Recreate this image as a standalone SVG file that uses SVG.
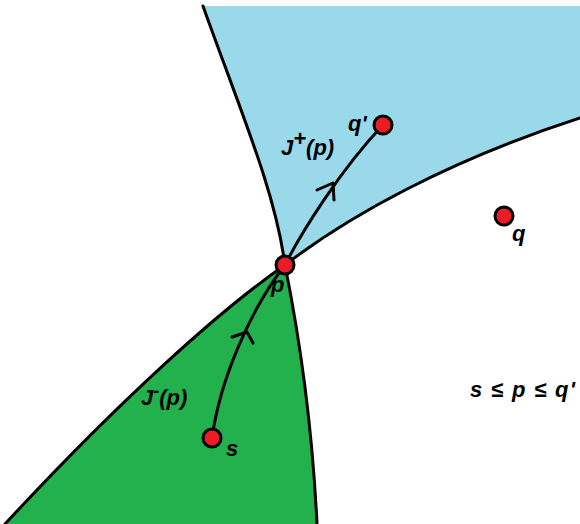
<svg xmlns="http://www.w3.org/2000/svg" width="580" height="524" viewBox="0 0 580 524">
<style>
.edge{fill:none;stroke:#000;stroke-width:3;stroke-linecap:round;stroke-linejoin:round}
.pt{fill:#ed1c24;stroke:#000;stroke-width:3}
.lbl{font-family:"Liberation Sans",Arial,sans-serif;font-weight:bold;font-style:italic;font-size:22px;fill:#000}
</style>
<rect width="580" height="524" fill="#fff"/>
<g id="future-cone">
<path d="M203,6 L580,6 L580,118 C450,160 350,215 285,265 C275,190 240,110 203,6 Z" fill="#99d9ea"/>
<path class="edge" d="M203,6 C240,110 275,190 285,265"/>
<path class="edge" d="M580,118 C450,160 350,215 285,265"/>
<text class="lbl" x="281" y="155">J<tspan font-size="22" dy="-9">+</tspan><tspan dy="9">(p)</tspan></text>
</g>
<g id="past-cone">
<path d="M285,265 C220,310 120,400 5,524 L317,524 C312,420 298,330 285,265 Z" fill="#22b14c"/>
<path class="edge" d="M285,265 C220,310 120,400 5,524"/>
<path class="edge" d="M285,265 C298,330 312,420 317,524"/>
<text class="lbl" x="141" y="405">J<tspan font-size="18" dy="-8">-</tspan><tspan dy="8">(p)</tspan></text>
</g>
<g id="connectors">
<path class="edge" d="M285,265 C300,235 340,170 383,125"/>
<path class="edge" d="M317,190 L333,183 L334,200"/>
<path class="edge" d="M212,438 C220,380 250,310 285,265"/>
<path class="edge" d="M232,337 L247,332 L253,343"/>
</g>
<g id="node-qprime">
<circle class="pt" cx="383" cy="125" r="9"/>
<text class="lbl" x="348" y="131">q'</text>
</g>
<g id="node-p">
<circle class="pt" cx="285" cy="265" r="9"/>
<text class="lbl" x="271" y="292">p</text>
</g>
<g id="node-q">
<circle class="pt" cx="504" cy="216" r="9"/>
<text class="lbl" x="512" y="241">q</text>
</g>
<g id="node-s">
<circle class="pt" cx="212" cy="438" r="9"/>
<text class="lbl" x="226" y="456">s</text>
</g>
<g id="relation">
<text class="lbl" x="470" y="397" font-size="23" textLength="105" lengthAdjust="spacing">s ≤ p ≤ q'</text>
</g>
</svg>
